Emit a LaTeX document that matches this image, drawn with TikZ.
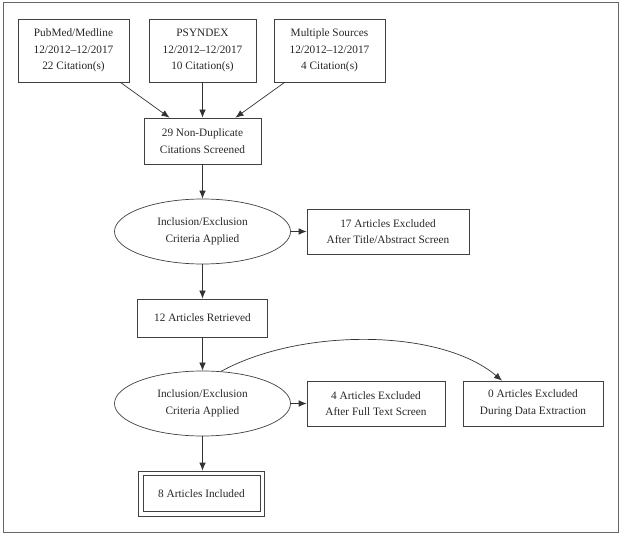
\documentclass[tikz,border=0pt]{standalone}
\usepackage{fontspec}
\setmainfont{Liberation Serif}
\usetikzlibrary{shapes.geometric,arrows.meta}

\begin{document}
\begin{tikzpicture}[x=1pt,y=-1pt]
\tikzstyle{every node}=[font=\fontsize{11.3}{16.5}\selectfont,text=black!85,align=center]
\tikzstyle{box}=[draw=black!75,line width=0.7pt,inner sep=0pt]
\tikzstyle{oval}=[draw=black!75,line width=0.7pt,ellipse,inner sep=0pt]
\tikzstyle{arr}=[-{Latex[length=8pt,width=6.5pt]},draw=black!80,line width=0.7pt]

\useasboundingbox (0,0) rectangle (621,534);

% outer frame
\draw[black!60,line width=0.8pt] (3,2) rectangle (618,532);

% sources
\node[box,minimum width=111pt,minimum height=63pt] (pubmed) at (73.5,50.5)
{PubMed/Medline\\12/2012--12/2017\\22 Citation(s)};
\node[box,minimum width=107pt,minimum height=63pt] (psyndex) at (202.5,50.5)
{PSYNDEX\\12/2012--12/2017\\10 Citation(s)};
\node[box,minimum width=111pt,minimum height=63pt] (multi) at (329.5,50.5)
{Multiple Sources\\12/2012--12/2017\\4 Citation(s)};

\node[box,minimum width=117pt,minimum height=46pt] (screened) at (202.5,141)
{29 Non-Duplicate\\Citations Screened};

% first screen
\node[oval,minimum width=176pt,minimum height=65pt] (crit1) at (202.5,231.5)
{Inclusion/Exclusion\\Criteria Applied};
\node[box,minimum width=162pt,minimum height=45pt] (excl1) at (388,231.5)
{17 Articles Excluded\\After Title/Abstract Screen};

\node[box,minimum width=130pt,minimum height=38pt] (retrieved) at (202.5,318)
{12 Articles Retrieved};

% second screen
\node[oval,minimum width=176pt,minimum height=65pt] (crit2) at (202.5,403.5)
{Inclusion/Exclusion\\Criteria Applied};
\node[box,minimum width=138pt,minimum height=45pt] (excl2) at (376,403.5)
{4 Articles Excluded\\After Full Text Screen};
\node[box,minimum width=140pt,minimum height=45pt] (excl3) at (533,403.5)
{0 Articles Excluded\\During Data Extraction};

% final box, with an inner frame
\node[box,minimum width=126pt,minimum height=45pt] (included) at (201.5,493.5)
{8 Articles Included};
\draw[black!75,line width=0.7pt] ([shift={(5,5)}]included.north west)
  rectangle ([shift={(-5,-5)}]included.south east);

% connectors
\draw[arr] (pubmed.south east) ++(-9,0) -- ([xshift=-33pt]screened.north);
\draw[arr] (psyndex) -- (screened);
\draw[arr] (multi.south west) ++(11,0) -- ([xshift=33pt]screened.north);
\draw[arr] (screened) -- (crit1);
\draw[arr] (crit1) -- (excl1);
\draw[arr] (crit1) -- (retrieved);
\draw[arr] (retrieved) -- (crit2);
\draw[arr] (crit2) -- (excl2);
\draw[arr] (crit2.60) .. controls (300,328) and (440,328) .. ([xshift=-31pt]excl3.north);
\draw[arr] (crit2.south) -- (crit2.south |- included.north);

\end{tikzpicture}
\end{document}
